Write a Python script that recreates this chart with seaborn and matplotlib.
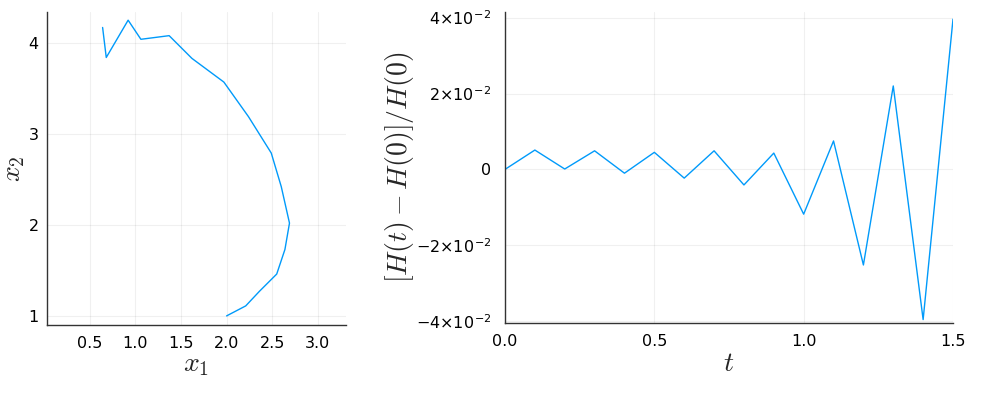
import numpy as np
import pandas as pd
import seaborn as sns
import matplotlib
matplotlib.use("Agg")
import matplotlib.pyplot as plt
from matplotlib.ticker import FixedLocator, FixedFormatter

# trajectory in phase space (x1, x2)
x1 = [2.00, 2.21, 2.36, 2.55, 2.64, 2.69, 2.60, 2.49, 2.24, 1.97,
      1.62, 1.37, 1.06, 0.92, 0.68, 0.64]
x2 = [1.00, 1.11, 1.27, 1.46, 1.73, 2.02, 2.42, 2.79, 3.19, 3.57,
      3.83, 4.08, 4.04, 4.25, 3.84, 4.17]

# relative energy error over time
t = [0.0, 0.1, 0.2, 0.3, 0.4, 0.5, 0.6, 0.7, 0.8, 0.9,
     1.0, 1.1, 1.2, 1.3, 1.4, 1.5]
rel_err = [0.0, 0.0051, 0.0001, 0.0049, -0.0010, 0.0045, -0.0023, 0.0049,
           -0.0041, 0.0043, -0.0118, 0.0075, -0.0252, 0.0220, -0.0396, 0.0396]

x1_ticks = [0.5, 1.0, 1.5, 2.0, 2.5, 3.0]
x2_ticks = [1, 2, 3, 4]
t_ticks = [0.0, 0.5, 1.0, 1.5]
err_ticks = [-0.04, -0.02, 0.0, 0.02, 0.04]
err_labels = ["\u22124\u00d710$^{\\mathdefault{-2}}$", "\u22122\u00d710$^{\\mathdefault{-2}}$", "0",
              "2\u00d710$^{\\mathdefault{-2}}$", "4\u00d710$^{\\mathdefault{-2}}$"]

traj = pd.DataFrame({"x1": x1, "x2": x2})
energy = pd.DataFrame({"t": t, "err": rel_err})

sns.set_theme(style="white")
plt.rcParams["font.family"] = ["DejaVu Sans"]
plt.rcParams["mathtext.fontset"] = "cm"

blue = "#009afa"
fig = plt.figure(figsize=(10, 4), dpi=100)
ax1 = fig.add_axes([0.047, 0.1875, 0.299, 0.7825])
ax2 = fig.add_axes([0.505, 0.1925, 0.448, 0.7775])

sns.lineplot(data=traj, x="x1", y="x2", sort=False, estimator=None,
             color=blue, linewidth=1.0, ax=ax1)
sns.lineplot(data=energy, x="t", y="err", sort=False, estimator=None,
             color=blue, linewidth=1.0, ax=ax2)

ax1.set_xlim(0.03, 3.31)
ax1.set_ylim(0.90, 4.34)
ax1.xaxis.set_major_locator(FixedLocator(x1_ticks))
ax1.set_xticklabels([f"{v:.1f}" for v in x1_ticks])
ax1.yaxis.set_major_locator(FixedLocator(x2_ticks))
ax1.set_yticklabels([str(v) for v in x2_ticks])
ax1.set_xlabel("$x_1$", fontsize=20, labelpad=-1)
ax1.set_ylabel("$x_2$", fontsize=20, labelpad=1)

ax2.set_xlim(0.0, 1.5)
ax2.set_ylim(-0.0405, 0.0415)
ax2.xaxis.set_major_locator(FixedLocator(t_ticks))
ax2.set_xticklabels([f"{v:.1f}" for v in t_ticks])
ax2.yaxis.set_major_locator(FixedLocator(err_ticks))
ax2.yaxis.set_major_formatter(FixedFormatter(err_labels))
ax2.set_xlabel("$t$", fontsize=20, labelpad=0)
ax2.set_ylabel(r"$[H(t) - H(0)] / H(0)$", fontsize=20, labelpad=0)

for ax in (ax1, ax2):
    ax.grid(True, color="#000000", alpha=0.06, linewidth=0.8)
    for side in ("top", "right"):
        ax.spines[side].set_visible(False)
    for side in ("left", "bottom"):
        ax.spines[side].set_color("#333333")
        ax.spines[side].set_linewidth(1.0)
    ax.tick_params(axis="both", direction="in", length=3, width=0.8,
                   color="#333333", labelsize=11.5, labelcolor="black")
    ax.tick_params(axis="x", pad=8)

ax1.tick_params(axis="y", pad=6)
ax2.tick_params(axis="y", pad=10)

fig.savefig("out.png", dpi=100)
